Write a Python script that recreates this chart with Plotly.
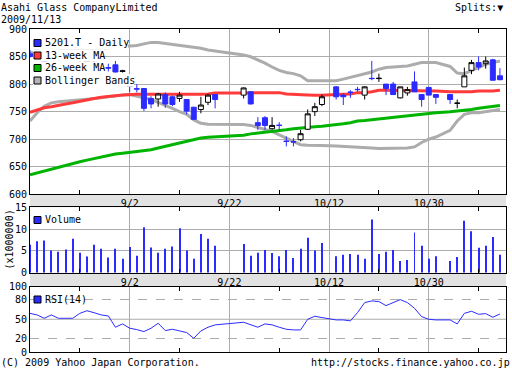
import numpy as np
import pandas as pd
import plotly.graph_objects as go

# ---------------- data ----------------
dates = ["2009-08-13", "2009-08-14", "2009-08-17", "2009-08-18", "2009-08-19", "2009-08-20", "2009-08-21",
         "2009-08-24", "2009-08-25", "2009-08-26", "2009-08-27", "2009-08-28", "2009-08-31",
         "2009-09-01", "2009-09-02", "2009-09-03", "2009-09-04", "2009-09-07", "2009-09-08", "2009-09-09",
         "2009-09-10", "2009-09-11", "2009-09-14", "2009-09-15", "2009-09-16", "2009-09-17", "2009-09-18",
         "2009-09-24", "2009-09-25", "2009-09-28", "2009-09-29", "2009-09-30",
         "2009-10-01", "2009-10-02", "2009-10-05", "2009-10-06", "2009-10-07", "2009-10-08", "2009-10-09",
         "2009-10-13", "2009-10-14", "2009-10-15", "2009-10-16", "2009-10-19", "2009-10-20", "2009-10-21",
         "2009-10-22", "2009-10-23", "2009-10-26", "2009-10-27", "2009-10-28", "2009-10-29", "2009-10-30",
         "2009-11-02", "2009-11-04", "2009-11-05", "2009-11-06", "2009-11-09", "2009-11-10", "2009-11-11",
         "2009-11-12", "2009-11-13"]

open_ = [855, 862, 845, 838, 830, 824, 835, 850, 838, 840, 826, 830, 835, 823, 796.5, 791.5, 792, 774, 773, 781,
         777, 774, 772, 758, 754, 767, 781,
         780, 786, 730, 739, 719, 725.5, 696.5, 695.5, 699, 718, 750, 763,
         795, 780, 785.5, 790.5, 780, 810.5, 810, 800, 800, 775, 784, 804, 781, 794, 781,
         781, 765, 795, 825, 839, 837, 844, 815]
high = [862, 866, 848, 840, 832, 830, 838, 856, 846, 843, 834, 837, 842, 826, 800, 800, 793, 778, 784, 785,
        779, 786, 773, 759, 777, 782, 782,
        794, 787, 740, 742, 740, 731, 705, 702, 717, 754, 766, 781,
        796, 783, 789, 795, 796, 842, 819, 800, 804, 795, 795, 823, 781, 795, 781,
        781, 772, 830, 844, 850, 850, 846, 829]
low = [848, 843, 832, 822, 820, 820, 826, 840, 834, 828, 822, 823, 821, 821, 785, 785, 751, 756, 759, 757,
       760, 768, 745, 735, 747, 762, 756,
       774, 763, 717, 717, 717, 716, 687, 687, 696, 717, 742, 760,
       772, 762, 775, 786, 772, 807, 804, 780, 781, 774, 779, 786, 759, 780, 764,
       764, 756, 795, 818, 825, 828, 807, 807]
close = [850, 846, 836, 826, 823, 828, 829, 843, 842, 832, 830, 829, 822, 824, 796, 791, 756, 764, 782, 764,
         763, 780, 751, 736, 762, 780, 772,
         793, 764, 725, 725, 725, 725, 696, 695, 710, 746, 759, 777,
         777, 777, 785, 790, 795, 810, 810.5, 792, 781, 795, 790, 786, 772, 780, 776,
         772, 765.5, 815, 839, 831, 842, 807, 808]

ma13 = [749, 753, 757, 759, 762, 764, 766, 769, 771, 774, 776, 778, 779, 780, 781, 781.5, 781.5, 781.4, 781.4,
        781.4, 781.4, 781.4, 781.4, 781.4, 781.4, 782, 784,
        784, 784, 784, 784, 784.5, 784.5, 782, 781, 781, 780, 779.6, 779.6,
        781, 781, 782, 784.5, 784.5, 786, 788.7, 788.7, 788.7, 788.7, 788.7, 788.7, 788, 787.5, 787.5,
        786, 785.7, 785.7, 786, 787.5, 787.5, 787.5, 789]
ma26 = [635.5, 639, 642, 645.5, 649, 652, 655.5, 659, 662, 665, 668, 670.5, 673, 674.5, 676, 677.5, 679, 681,
        684, 687, 690, 693, 696, 699, 702, 703.5, 704,
        707, 709.7, 711, 712.5, 714, 715.5, 717, 719, 720.6, 721.5, 722.5, 723.5,
        726, 728, 730, 733, 734, 735.5, 737, 738.5, 740, 741, 742.5, 744, 746, 747, 748,
        750, 751, 752.5, 754, 756, 757.5, 759, 761]
bb_upper = [857, 858, 859, 860, 861, 862, 862, 863, 864, 864, 865, 866, 866, 867, 868, 870, 873, 875.7, 875.7,
            874, 872.7, 870, 868, 866.5, 865, 862, 860,
            853, 849.6, 844, 838, 831, 825, 821, 819, 815, 806, 806, 806,
            806, 809, 812, 815, 818, 822, 827, 830, 831, 832, 833, 836, 839, 839, 839,
            832, 820, 819, 825, 831, 836, 839, 842]
bb_lower = [733, 748, 760, 766, 768, 769, 770, 771, 772, 773, 775, 777, 779, 780, 781, 778, 776, 772, 767, 762,
            756, 750, 745, 735, 729, 727, 726.7,
            726.7, 725, 721, 717, 714, 708, 702, 696, 690, 689, 689, 688.5,
            687.5, 687, 686.5, 686, 685, 684, 683, 683, 684, 684, 684, 686, 694, 700, 704,
            716, 733, 745, 748, 748, 750, 751, 754]

volume = [6.4, 7.2, 7.4, 5.1, 4.8, 5.3, 7.8, 4.6, 3.7, 6.4, 5.5, 3.5, 5.5, 3.2, 5.9, 3.9, 10.4, 5.8, 4.6, 5.5,
          6.0, 10.2, 5.1, 3.2, 8.9, 7.8, 6.2,
          6.6, 3.9, 4.6, 5.2, 4.5, 3.8, 5.2, 3.4, 5.5, 8.0, 5.1, 6.8,
          3.8, 4.1, 4.3, 4.1, 3.2, 12.2, 4.3, 4.8, 5.2, 2.7, 2.9, 9.2, 6.2, 3.2, 3.8,
          2.7, 3.6, 11.9, 9.5, 5.7, 6.2, 8.2, 4.1]
rsi = [59, 56.6, 51.5, 56.6, 51.5, 51.5, 51.5, 59, 63, 60, 56.6, 55, 37.8, 42.9, 36.3, 34.2, 31.2, 36.3, 43.9,
       32.7, 34.7, 32.2, 29.7, 21, 32.2, 37.8, 41.4,
       45.4, 41.4, 37.8, 42.9, 41.4, 37.8, 34.7, 33.7, 33.7, 50, 54.6, 52.5,
       49, 49, 47.5, 60.2, 75.4, 78, 77, 70.8, 76, 80, 75.4, 66.8, 54, 50, 49,
       49, 42.9, 59, 62.2, 57.6, 58.6, 53, 58]

tick_dates = ["2009-09-02", "2009-09-22", "2009-10-12", "2009-10-30"]
price_ticks = [600, 650, 700, 750, 800, 850, 900]
vol_ticks = [0, 5, 10, 15]
rsi_ticks = [0, 20, 50, 80, 100]
rsi_dashed = [20, 80]
rsi_mid = 50

title_text = "Asahi Glass CompanyLimited"
date_text = "2009/11/13"
legend_main = ["5201.T - Daily", "13-week MA", "26-week MA", "Bollinger Bands"]

# ---------------- scales ----------------
xi = np.busday_count(dates[0], dates)               # weekday position (holidays leave gaps)
tick_idx = np.busday_count(dates[0], tick_dates)
minor_idx = np.concatenate([tick_idx - 7, [tick_idx[-1] + 7]])
tick_text = [f"{pd.Timestamp(d).month}/{pd.Timestamp(d).day}" for d in tick_dates]

o = np.array(open_, float); c = np.array(close, float)
h = np.array(high, float); lo = np.array(low, float)
up = c > o
dn = ~up

FONT = "DejaVu Sans Mono"
BLUE = "#2b2bff"
RED = "#ff3a3a"
GREEN = "#00b400"
GRAY = "#acacac"
GRID = "#acacac"

W, H = 512, 380
L, R, T, B = 30, 6, 29, 28
PW, PH = W - L - R, H - T - B


def fx(px):
    return (px - L) / PW


def fy(py):
    return (H - B - py) / PH


dom_main = [fy(194.3), 1.0]
dom_vol = [fy(272.7), fy(207.3)]
dom_rsi = [0.0, fy(286.5)]
XR = [0, 66.85]

fig = go.Figure()

# lines on base price subplot
fig.add_trace(go.Scatter(x=xi, y=bb_upper, mode="lines", line=dict(color=GRAY, width=3), xaxis="x", yaxis="y"))
fig.add_trace(go.Scatter(x=xi, y=bb_lower, mode="lines", line=dict(color=GRAY, width=3), xaxis="x", yaxis="y"))
fig.add_trace(go.Scatter(x=xi, y=ma13, mode="lines", line=dict(color=RED, width=3), xaxis="x", yaxis="y"))
fig.add_trace(go.Scatter(x=xi, y=ma26, mode="lines", line=dict(color=GREEN, width=3), xaxis="x", yaxis="y"))

# candles on overlaid axis (drawn above lines)
for mask, fill, edge in [(dn, BLUE, BLUE), (up, "white", "black")]:
    fig.add_trace(go.Candlestick(
        x=xi[mask], open=o[mask], high=h[mask], low=lo[mask], close=c[mask],
        increasing=dict(fillcolor=fill, line=dict(color=edge, width=1)),
        decreasing=dict(fillcolor=fill, line=dict(color=edge, width=1)),
        whiskerwidth=0, xaxis="x", yaxis="y4", hoverinfo="skip"))

# volume
fig.add_trace(go.Bar(x=xi, y=volume, width=0.14, marker=dict(color=BLUE, line=dict(width=0)),
                     xaxis="x2", yaxis="y2"))
# rsi
fig.add_trace(go.Scatter(x=xi, y=rsi, mode="lines", line=dict(color=BLUE, width=1), xaxis="x3", yaxis="y3"))

xcommon = dict(range=XR, tickvals=tick_idx, ticktext=tick_text, showgrid=True, gridcolor=GRID, gridwidth=1,
               showline=True, linecolor="black", linewidth=1, mirror="ticks", ticks="", zeroline=False,
               tickfont=dict(family=FONT, size=10, color="black"),
               minor=dict(tickvals=minor_idx, ticks="inside", ticklen=4, tickcolor="black", showgrid=False))
ycommon = dict(showline=True, linecolor="black", linewidth=1, mirror=True, ticks="", zeroline=False,
               gridcolor=GRID, tickfont=dict(family=FONT, size=10, color="black"))

fig.update_layout(
    width=W, height=H, margin=dict(l=L, r=R, t=T, b=B),
    paper_bgcolor="white", plot_bgcolor="white", showlegend=False,
    boxgap=0.3, boxgroupgap=0.0,
    xaxis=dict(xcommon, domain=[0, 1], anchor="y", rangeslider=dict(visible=False)),
    xaxis2=dict(xcommon, domain=[0, 1], anchor="y2", matches="x"),
    xaxis3=dict(xcommon, domain=[0, 1], anchor="y3", matches="x", showticklabels=False),
    yaxis=dict(ycommon, domain=dom_main, range=[600, 900], tickvals=price_ticks, showgrid=True),
    yaxis4=dict(overlaying="y", range=[600, 900], visible=False, showgrid=False),
    yaxis2=dict(ycommon, domain=dom_vol, range=[0, 15], tickvals=vol_ticks, showgrid=True),
    yaxis3=dict(ycommon, domain=dom_rsi, range=[0, 100], tickvals=rsi_ticks, showgrid=False,
                minor=dict(tickvals=rsi_dashed, showgrid=True, griddash="dash", gridcolor=GRID, ticks="")),
)

shapes = []
# date strips
for top, bot in [(194.3, 207.3), (272.7, 286.5)]:
    shapes.append(dict(type="rect", xref="paper", yref="paper", x0=0, x1=1, y0=fy(bot), y1=fy(top),
                       fillcolor="#e2e2e2", line=dict(width=0), layer="below"))
# rsi middle line
shapes.append(dict(type="line", xref="x3 domain", yref="y3", x0=0, x1=1, y0=rsi_mid, y1=rsi_mid,
                   line=dict(color=GRID, width=1), layer="below"))

annotations = []
# main legend with white row backgrounds
row_c = [43, 55.5, 68, 80.5]
row_h = 12.5
colors = [BLUE, RED, GREEN, "#b4b4b4"]
for lab, cy, col in zip(legend_main, row_c, colors):
    shapes.append(dict(type="rect", xref="paper", yref="paper", x0=fx(33), x1=fx(44 + 6 * len(lab)),
                       y0=fy(cy + row_h / 2), y1=fy(cy - row_h / 2), fillcolor="white",
                       line=dict(width=0), layer="above"))
for lab, cy, col in zip(legend_main, row_c, colors):
    shapes.append(dict(type="rect", xref="paper", yref="paper", x0=fx(34), x1=fx(41),
                       y0=fy(cy + 3.5), y1=fy(cy - 3.5), fillcolor=col,
                       line=dict(color="black", width=1), layer="above"))
    annotations.append(dict(text=lab, xref="paper", yref="paper", x=fx(42.5), y=fy(cy), xanchor="left",
                            yanchor="middle", showarrow=False, font=dict(family=FONT, size=10, color="black")))
# sub-panel legends
for lab, cy in [("Volume", 220), ("RSI(14)", 299.5)]:
    shapes.append(dict(type="rect", xref="paper", yref="paper", x0=fx(34), x1=fx(41),
                       y0=fy(cy + 3.5), y1=fy(cy - 3.5), fillcolor=BLUE,
                       line=dict(color="black", width=1), layer="above"))
    annotations.append(dict(text=lab, xref="paper", yref="paper", x=fx(42.5), y=fy(cy), xanchor="left",
                            yanchor="middle", showarrow=False, font=dict(family=FONT, size=10, color="black")))


# header / footer / axis title
def txt(s, px, py, anchor="left", angle=0):
    annotations.append(dict(text=s, xref="paper", yref="paper", x=fx(px), y=fy(py), xanchor=anchor,
                            yanchor="middle", showarrow=False, textangle=angle, borderpad=0,
                            font=dict(family=FONT, size=10, color="black")))


txt(title_text, 0, 7)
txt(date_text, 0, 20)
txt("Splits:\u25bc", 504, 7, "right")
txt("(C) 2009 Yahoo Japan Corporation.", 0, 362)
txt("http://stocks.finance.yahoo.co.jp", 511, 362, "right")
txt("(x1000000)", 8.5, 240, "center", -90)

fig.update_layout(shapes=shapes, annotations=annotations)
fig.write_html("out.html", config={"displayModeBar": False},
               post_script="document.body.style.margin='0px';document.body.style.overflow='hidden';")
